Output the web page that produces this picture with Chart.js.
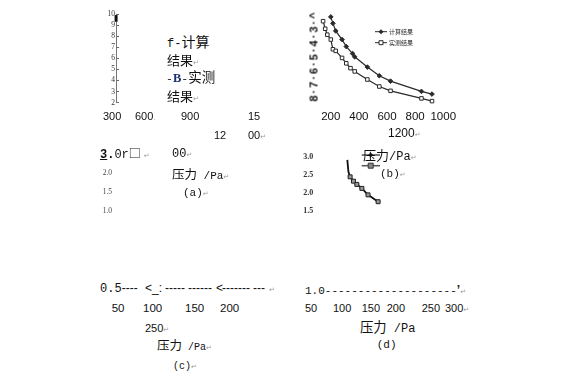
<!DOCTYPE html>
<html><head><meta charset="utf-8">
<script src="https://cdn.jsdelivr.net/npm/chart.js@4.4.1/dist/chart.umd.min.js"></script>
<style>
html,body{margin:0;padding:0;background:#fff;}
#root{position:relative;width:564px;height:376px;overflow:hidden;background:#fff;}
canvas{position:absolute;}
.t{position:absolute;white-space:pre;color:#111;overflow:visible;}
.t span,.t b{display:inline-block;line-height:1;vertical-align:baseline;}
.cj{font-family:"Noto Sans CJK SC";}
.mo{font-family:"Liberation Mono";}
.sa{font-family:"Liberation Sans";}
.rt{font-family:"DejaVu Sans";font-size:7px;color:#999;}
</style></head><body><div id="root">
<canvas id="ca" width="24" height="115" style="left:95px;top:0px;width:24px;height:115px"></canvas>
<canvas id="cc" width="22" height="80" style="left:95px;top:150px;width:22px;height:80px"></canvas>
<canvas id="cb" width="180" height="130" style="left:290px;top:0px;width:180px;height:130px"></canvas>
<canvas id="cd" width="181" height="80" style="left:290px;top:140px;width:181px;height:80px"></canvas>
</div>
<script>
// ---------- data ----------
const aTickMin = 2, aTickMax = 10;            // panel (a) axis ticks 2..10
const aMarkX = [0.3, 0.3];
const aMarkY = [9.3, 9.9];                   // short thick segment near 10
const cTickMin = 1.0, cTickMax = 2.0;        // panel (c) axis ticks 1.0..2.0
const bTicks = [200, 400, 600, 800, 1000];   // panel (b) pressure ticks
const legendLabels = ['计算结果', '实测结果'];
const bPressCalc = [200, 215, 235, 280, 310, 355, 370, 460, 545, 625, 845, 920];
const bCalc      = [9.9, 9.3, 8.6, 7.8, 7.15, 6.5, 6.2, 5.25, 4.45, 3.95, 3.0, 2.75];
const bPressMeas = [145, 160, 175, 200, 215, 235, 280, 310, 340, 370, 460, 545, 625, 845, 920];
const bMeas      = [9.5, 8.8, 8.25, 7.8, 6.9, 6.75, 6.1, 5.6, 5.15, 4.85, 4.1, 3.45, 3.05, 2.35, 2.1];
const dTickMin = 1.5, dTickMax = 3.0;        // panel (d) axis ticks
const dPress = [109, 111, 114, 120, 126, 135, 146, 164, 167];
const dVal   = [2.91, 2.58, 2.44, 2.32, 2.23, 2.12, 1.94, 1.75, 1.73];

const pts = (xs, ys) => xs.map((x, i) => ({x, y: ys[i]}));
const base = {animation:false, responsive:false, events:[],
  plugins:{legend:{display:false}, tooltip:{enabled:false}}};

// ---------- panel (a) axis ----------
new Chart(document.getElementById('ca'), {
  type:'line',
  data:{datasets:[{data:pts(aMarkX, aMarkY), borderColor:'#111', borderWidth:3,
    borderCapStyle:'butt', pointRadius:0, clip:false}]},
  options:{...base,
    layout:{padding:{top:14, bottom:12.3, left:0, right:0}},
    scales:{
      x:{type:'linear', display:false, min:0, max:10},
      y:{min:aTickMin, max:aTickMax,
        ticks:{stepSize:1, padding:1, autoSkip:false, color:'#333',
          font:{family:'Liberation Serif', size:7.5}, callback:v => String(v)},
        grid:{drawOnChartArea:true, drawTicks:false, color:'#666', lineWidth:1},
        border:{color:'#777', width:1},
        afterFit(s){ s.width = 21; }}
    }}
});

// ---------- panel (c) axis ----------
new Chart(document.getElementById('cc'), {
  type:'line', data:{datasets:[]},
  options:{...base,
    layout:{padding:{top:23.3, bottom:19.3, left:0, right:0}},
    scales:{
      x:{type:'linear', display:false, min:0, max:1},
      y:{min:cTickMin, max:cTickMax,
        ticks:{stepSize:0.5, padding:0, autoSkip:false, color:'#444',
          font:{family:'Liberation Serif', size:7.5}, callback:v => v.toFixed(1)},
        grid:{display:false, drawTicks:false}, border:{display:false},
        afterFit(s){ s.width = 17; }}
    }}
});

// ---------- panel (b) ----------
const legendB = {
  id:'legendB',
  afterDraw(chart){
    const c = chart.ctx;
    const rows = [[31.7, 'diamond'], [42.7, 'square']];
    rows.forEach(([y, st], i) => {
      c.save();
      c.strokeStyle = '#2a2a2a'; c.lineWidth = 1;
      c.beginPath(); c.moveTo(85, y); c.lineTo(97, y); c.stroke();
      c.beginPath();
      if (st === 'square') { c.fillStyle = '#fff'; c.rect(89, y - 2, 4, 4); c.fill(); c.stroke(); }
      else { c.fillStyle = '#2a2a2a'; c.moveTo(91, y - 2.5); c.lineTo(93.5, y); c.lineTo(91, y + 2.5); c.lineTo(88.5, y); c.closePath(); c.fill(); }
      c.fillStyle = '#222'; c.font = '6px "Noto Sans CJK SC"'; c.textBaseline = 'middle';
      c.fillText(legendLabels[i], 99, y + 0.5);
      c.restore();
    });
  }
};
new Chart(document.getElementById('cb'), {
  type:'line',
  data:{datasets:[
    {label:legendLabels[0], data:pts(bPressCalc, bCalc), borderColor:'#2a2a2a', borderWidth:1.2,
      pointStyle:'rectRot', pointRadius:2.3, pointBackgroundColor:'#2a2a2a', pointBorderColor:'#2a2a2a',
      pointBorderWidth:1, tension:0, clip:false},
    {label:legendLabels[1], data:pts(bPressMeas, bMeas), borderColor:'#2a2a2a', borderWidth:1.2,
      pointStyle:'rect', pointRadius:2.5, pointBackgroundColor:'#fff', pointBorderColor:'#2a2a2a',
      pointBorderWidth:1, tension:0, clip:false}
  ]},
  options:{...base,
    layout:{padding:{left:12.7, right:12.7, top:1, bottom:3.5}},
    scales:{
      x:{type:'linear', min:0, max:1100,
        afterBuildTicks(s){ s.ticks = bTicks.map(v => ({value:v})); },
        grid:{display:false, drawTicks:false}, border:{display:false},
        ticks:{padding:3, color:'#111', maxRotation:0, autoSkip:false,
          font:{family:'Liberation Sans', size:11.5}, callback:v => String(v)},
        afterFit(s){ s.height = 20; }},
      y:{display:false, min:1.6, max:11}
    }},
  plugins:[legendB]
});

// ---------- panel (d) ----------
const legendD = {
  id:'legendD',
  afterDraw(chart){
    const c = chart.ctx;
    c.save();
    c.strokeStyle = '#555'; c.lineWidth = 1.5;
    [15, 25.7].forEach(y => { c.beginPath(); c.moveTo(71.7, y); c.lineTo(90, y); c.stroke(); });
    c.fillStyle = '#222';
    c.beginPath(); c.moveTo(80.7, 12.5); c.lineTo(83.2, 15); c.lineTo(80.7, 17.5); c.lineTo(78.2, 15); c.closePath(); c.fill();
    c.fillStyle = '#888'; c.strokeStyle = '#333'; c.lineWidth = 1;
    c.beginPath(); c.rect(78.2, 23.2, 5, 5); c.fill(); c.stroke();
    c.restore();
  }
};
const dMarkR = ctx => (ctx.dataIndex >= 2 && ctx.dataIndex <= 7) ? 2.8 : 0;
new Chart(document.getElementById('cd'), {
  type:'line',
  data:{datasets:[
    {data:pts(dPress, dVal), borderColor:'#111', borderWidth:1.8, tension:0, clip:false,
      pointStyle:'rect', pointRadius:dMarkR, pointBackgroundColor:'#999', pointBorderColor:'#222', pointBorderWidth:1},
    {data:pts(dPress, dVal), showLine:false, clip:false,
      pointStyle:'rectRot', pointRadius:ctx => dMarkR(ctx) ? 1.8 : 0, pointBackgroundColor:'#111', pointBorderColor:'#111'}
  ]},
  options:{...base,
    layout:{padding:{top:16.7, bottom:9.3, left:0, right:0}},
    scales:{
      x:{type:'linear', display:false, min:50, max:330},
      y:{min:dTickMin, max:dTickMax,
        ticks:{stepSize:0.5, padding:1, autoSkip:false, color:'#333',
          font:{family:'Liberation Serif', size:8, weight:'bold'}, callback:v => v.toFixed(1)},
        grid:{display:false, drawTicks:false}, border:{display:false},
        afterFit(s){ s.width = 24.3; }}
    }},
  plugins:[legendD]
});

// ---------- texts ----------
const root = document.getElementById('root');
const R = '<span class="rt">↵</span>';
function put(x, y, html, size, extra) {
  const d = document.createElement('div');
  d.className = 't';
  d.style.left = x + 'px';
  d.style.top = (y - size / 2) + 'px';
  d.style.lineHeight = size + 'px';
  d.style.height = size + 'px';
  d.style.fontSize = size + 'px';
  if (extra) d.style.cssText += extra;
  d.innerHTML = html;
  root.appendChild(d);
  return d;
}
const cj = (s, z) => `<span class="cj" style="font-size:${z}px">${s}</span>`;
const mo = (s, z) => `<span class="mo" style="font-size:${z}px">${s}</span>`;
const sa = (s, z) => `<span class="sa" style="font-size:${z}px">${s}</span>`;

// panel (a)
put(167, 40, mo('f-', 12) + cj('计算', 14), 13);
put(167, 59.5, cj('结果', 13) + R, 13);
put(166, 76.5, mo('-', 11.5) + '<b style="font-family:Liberation Serif;font-size:12.5px;color:#1c2f6e">B</b>' + mo('-', 11.5) + cj('实测', 13.5), 13);
put(167, 95.5, cj('结果', 13) + R, 13);
put(103, 116.7, sa('300', 11), 11);
put(135, 116.7, sa('600', 11) + '<span class="rt">.</span>', 11);
put(181, 116.7, sa('900', 11), 11);
put(248, 116.7, sa('15', 11), 11);
put(214, 135, sa('12', 11), 11);
put(248, 135, sa('00', 11) + R, 11);
put(100, 153, '<span class="mo" style="font-size:12px;font-weight:bold;text-decoration:underline">3</span>' + mo('<b>.</b>0r', 12) + cj('□', 12) + ' ' + R, 12);
put(172, 153, mo('00', 12) + R, 12);
put(172, 174, cj('压力', 12.5) + mo(' /Pa', 11) + R, 13);
put(183, 192, mo('(a)', 11) + R, 12);

// panel (b)
put(314, 55.8, '8·7·6·5·4·3·^', 11,
  'font-family:Liberation Sans;font-weight:bold;letter-spacing:2px;transform:translate(-50%,-50%) rotate(-90deg);top:55.8px;height:auto;');
put(388, 133.3, sa('1200', 12) + R, 12);
put(363, 154, cj('压力', 13) + mo('/Pa', 12) + R, 13);
put(380, 172.5, mo('(b)', 11) + R, 12);

// panel (c)
put(100, 288.3, mo('0.5', 12), 12);
put(121.7, 288.3, sa('----', 12), 12);
put(145, 288.3, sa('&lt;_:', 12), 12);
put(165, 288.3, sa('-----', 12), 12);
put(188, 288.3, sa('------', 12), 12);
put(216, 288.3, sa('&lt;', 12), 12);
put(222, 288.3, sa('-------', 12), 12);
put(253, 288.3, sa('---', 12), 12);
put(269, 288.3, R, 12);
put(111.7, 308.3, sa('50', 11.5), 12);
put(143, 308.3, sa('100', 11.5), 12);
put(185, 308.3, sa('150', 11.5), 12);
put(220, 308.3, sa('200', 11.5), 12);
put(145, 328.3, sa('250', 11) + R, 12);
put(157, 345, cj('压力', 12.5) + mo(' /Pa', 10) + R, 13);
put(173, 365, mo('(c)', 10) + R, 12);

// panel (d)
put(305, 290, mo('1.0' + '-'.repeat(20), 11) + '<b class="sa" style="font-size:12px">’</b>' + R, 12);
put(305, 308.3, sa('50', 11), 12);
put(333, 308.3, sa('100', 11), 12);
put(361.7, 308.3, sa('150', 11), 12);
put(386.7, 308.3, sa('200', 11), 12);
put(421.7, 308.3, sa('250', 11), 12);
put(445, 308.3, sa('300', 11) + R, 12);
put(360, 326.7, cj('压力', 13.3) + mo(' /Pa', 12), 13);
put(376.7, 344, mo('(d)', 11), 12);
</script>
</body></html>
